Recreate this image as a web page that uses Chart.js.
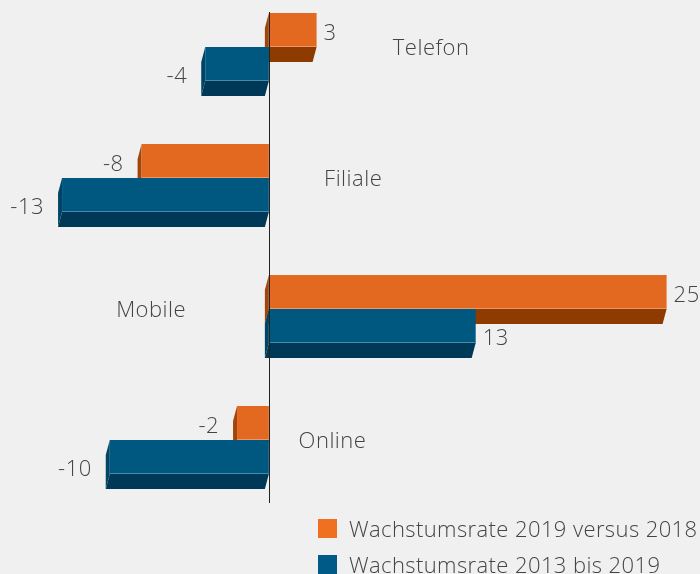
<!DOCTYPE html>
<html>
<head>
<meta charset="utf-8">
<script src="https://cdn.jsdelivr.net/npm/chart.js@4/dist/chart.umd.min.js"></script>
<style>
    body { margin: 0; background: #eff0ef; }
    #wrap { position: relative; width: 700px; height: 574px; }
    #legend { position: absolute; left: 318px; top: 510px; font-family: "Open Sans", sans-serif; font-weight: 300; font-size: 22px; letter-spacing: 0.4px; color: #444; }
    .legendItem { display: flex; align-items: center; height: 36px; white-space: nowrap; }
    .legendBox { width: 19px; height: 19px; margin-right: 12px; }
</style>
</head>
<body>
<div id="wrap">
    <canvas id="idChartWachstum" width="700" height="574"></canvas>
    <div id="legend"></div>
</div>
<script>
var aCategories = ['Telefon', 'Filiale', 'Mobile', 'Online'];
var aSeriesNames = ['Wachstumsrate 2019 versus 2018', 'Wachstumsrate 2013 bis 2019'];
var aWachstum2019 = [3, -8, 25, -2];
var aWachstum2013 = [-4, -13, 13, -10];

// styles
var aFront = ['rgb(227, 104, 32)', 'rgb(0, 87, 128)'];
var aBottom = ['rgb(141, 59, 0)', 'rgb(0, 56, 88)'];
var aSide = ['rgb(160, 70, 10)', 'rgb(0, 68, 102)'];
var aEdge = ['rgb(240, 150, 100)', 'rgb(70, 140, 175)'];
var aLegendColor = ['rgb(240, 112, 34)', 'rgb(0, 90, 135)'];
var aLabelOffsetY = [4, 13];
var aCategoryLabelAt = [10.2, 5.3, -7.4, 4.0];
var iDepthX = -4;
var iDepthY = 15;
var sFont = '300 22px "Open Sans", sans-serif';

function drawBar3d(ctx, oBar, iSet) {
    var iLeft = Math.min(oBar.x, oBar.base);
    var iRight = Math.max(oBar.x, oBar.base);
    var iTop = oBar.y - oBar.height / 2;
    var iBottom = oBar.y + oBar.height / 2;

    // bottom face
    ctx.fillStyle = aBottom[iSet];
    ctx.beginPath();
    ctx.moveTo(iLeft, iBottom);
    ctx.lineTo(iRight, iBottom);
    ctx.lineTo(iRight + iDepthX, iBottom + iDepthY);
    ctx.lineTo(iLeft + iDepthX, iBottom + iDepthY);
    ctx.closePath();
    ctx.fill();

    // left face
    ctx.fillStyle = aSide[iSet];
    ctx.beginPath();
    ctx.moveTo(iLeft, iTop);
    ctx.lineTo(iLeft, iBottom);
    ctx.lineTo(iLeft + iDepthX, iBottom + iDepthY);
    ctx.lineTo(iLeft + iDepthX, iTop + iDepthY);
    ctx.closePath();
    ctx.fill();

    // front face
    ctx.fillStyle = aFront[iSet];
    ctx.fillRect(iLeft, iTop, iRight - iLeft, iBottom - iTop);

    ctx.strokeStyle = aEdge[iSet];
    ctx.lineWidth = 1;
    ctx.beginPath();
    ctx.moveTo(iLeft, iBottom - 0.5);
    ctx.lineTo(iRight, iBottom - 0.5);
    ctx.stroke();
}

const oBar3dPlugin = {
    id: 'bar3d',
    beforeDatasetDraw: function () {
        return false;
    },
    afterDatasetsDraw: function (chart) {
        var ctx = chart.ctx;
        var xScale = chart.scales.x;
        var yScale = chart.scales.y;
        var iZero = Math.round(xScale.getPixelForValue(0)) + 0.5;

        ctx.save();
        for (var i = 0; i < aCategories.length; i++) {
            for (var d = 0; d < chart.data.datasets.length; d++) {
                drawBar3d(ctx, chart.getDatasetMeta(d).data[i], d);
            }
        }

        // value labels
        ctx.font = sFont;
        ctx.letterSpacing = '0.5px';
        ctx.fillStyle = '#444';
        ctx.textBaseline = 'middle';
        for (var d = 0; d < chart.data.datasets.length; d++) {
            var aData = chart.data.datasets[d].data;
            var aBars = chart.getDatasetMeta(d).data;
            for (var i = 0; i < aData.length; i++) {
                var oBar = aBars[i];
                if (aData[i] >= 0) {
                    ctx.textAlign = 'left';
                    ctx.fillText(String(aData[i]), oBar.x + 7, oBar.y + aLabelOffsetY[d]);
                } else {
                    ctx.textAlign = 'right';
                    ctx.fillText(String(aData[i]), oBar.x + iDepthX - 14, oBar.y + aLabelOffsetY[d]);
                }
            }
        }

        // category labels
        ctx.textAlign = 'center';
        for (var i = 0; i < aCategories.length; i++) {
            ctx.fillText(aCategories[i], xScale.getPixelForValue(aCategoryLabelAt[i]), yScale.getPixelForValue(i) + 2);
        }

        // zero line
        ctx.strokeStyle = '#222';
        ctx.lineWidth = 1;
        ctx.beginPath();
        ctx.moveTo(iZero, chart.chartArea.top - 35);
        ctx.lineTo(iZero, chart.chartArea.bottom + 63);
        ctx.stroke();
        ctx.restore();
    }
};

function initLegend() {
    var sHtml = '';
    for (var i = 0; i < aSeriesNames.length; i++) {
        sHtml += '<div class="legendItem"><span class="legendBox" style="background:' + aLegendColor[i] + '"></span>' + aSeriesNames[i] + '</div>';
    }
    document.getElementById('legend').innerHTML = sHtml;
}

function initChartWachstum() {

    const data = {
        labels: aCategories,
        datasets: [{
            label: aSeriesNames[0],
            backgroundColor: aLegendColor[0],
            data: aWachstum2019
        }, {
            label: aSeriesNames[1],
            backgroundColor: aLegendColor[1],
            data: aWachstum2013
        }]
    };

    const config = {
        type: 'bar',
        data: data,
        options: {
            indexAxis: 'y',
            responsive: false,
            animation: false,
            barThickness: 34,
            layout: {
                padding: { top: 47, bottom: 134, left: 0, right: 0 }
            },
            scales: {
                x: { type: 'linear', min: -16.9, max: 27.1, display: false },
                y: { type: 'category', offset: false, display: false }
            },
            plugins: {
                legend: { display: false },
                tooltip: { enabled: false }
            }
        },
        plugins: [oBar3dPlugin]
    };

    const oChartWachstum = new Chart(
        document.getElementById('idChartWachstum'),
        config
    );
}

initLegend();
initChartWachstum();
</script>
</body>
</html>
